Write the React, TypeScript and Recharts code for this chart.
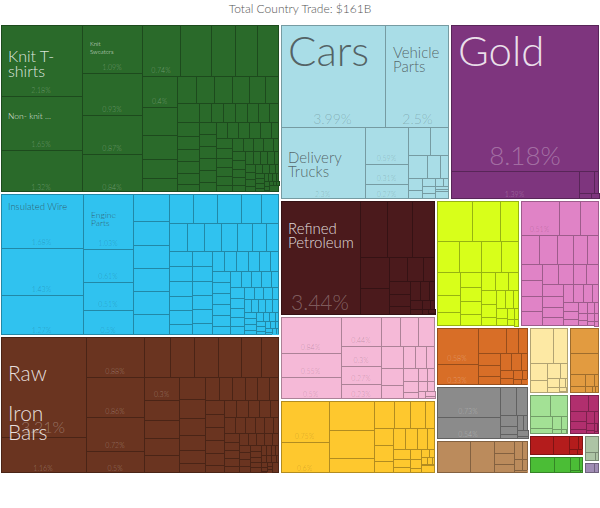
import { Treemap } from 'recharts'

const TITLE = 'Total Country Trade: $161B'

const SECTOR_NAMES = [
  'Textiles', 'Machines', 'Metals', 'Transportation', 'Precious Metals', 'Mineral Products',
  'Plastics and Rubbers', 'Foodstuffs', 'Vegetable Products', 'Chemical Products', 'Stone and Glass',
  'Instruments', 'Wood Products', 'Paper Goods', 'Miscellaneous', 'Animal Products',
  'Footwear and Headwear', 'Animal Hides', 'Animal and Vegetable Bi-Products', 'Arts and Antiques', 'Weapons'
]

// leaf values are shares of total trade (%)
const TEXTILES = [
  2.18, 1.65, 1.32, 1.09, 0.93, 0.87, 0.84, 0.74, 0.59, 0.46, 0.43, 0.42, 0.4, 0.36, 0.31, 0.24, 0.21,
  0.19, 0.18, 0.18, 0.17, 0.16, 0.16, 0.155, 0.115, 0.105, 0.1, 0.095, 0.09, 0.085,
  0.084, 0.083, 0.082, 0.081, 0.08, 0.079, 0.078, 0.077, 0.076, 0.075, 0.074, 0.073,
  0.07, 0.068, 0.066, 0.065, 0.064, 0.063, 0.062, 0.061, 0.06, 0.055, 0.054, 0.053, 0.052, 0.051,
  0.048, 0.047, 0.046, 0.045, 0.044, 0.043, 0.04, 0.039, 0.038, 0.037, 0.034, 0.033, 0.032, 0.031, 0.03,
  0.027, 0.026, 0.025, 0.024, 0.023, 0.02, 0.019, 0.018, 0.017, 0.016,
  0.014, 0.013, 0.012, 0.011, 0.01, 0.009, 0.008, 0.007, 0.006, 0.005, 0.004, 0.003, 0.002
]
const MACHINES = [
  1.68, 1.43, 1.27, 1.03, 0.61, 0.51, 0.5, 0.37, 0.32, 0.31, 0.31, 0.3, 0.29,
  0.27, 0.27, 0.265, 0.225, 0.185, 0.185, 0.18, 0.175, 0.165, 0.155, 0.15, 0.135,
  0.128, 0.126, 0.124, 0.122, 0.12, 0.118, 0.11, 0.108, 0.105, 0.103, 0.1, 0.098,
  0.09, 0.088, 0.086, 0.085, 0.084, 0.082, 0.075, 0.073, 0.071, 0.07, 0.07, 0.068, 0.066,
  0.062, 0.06, 0.058, 0.057, 0.055, 0.054, 0.048, 0.046, 0.045, 0.044, 0.042,
  0.038, 0.037, 0.036, 0.035, 0.034, 0.033, 0.029, 0.028, 0.027, 0.026, 0.025,
  0.022, 0.021, 0.02, 0.019, 0.018, 0.017, 0.015, 0.014, 0.013, 0.012, 0.011, 0.01,
  0.009, 0.008, 0.007, 0.006, 0.005, 0.004, 0.003
]
const METALS = [
  3.21, 1.16, 0.88, 0.86, 0.72, 0.5, 0.4, 0.365, 0.36, 0.345, 0.305, 0.28,
  0.3, 0.26, 0.235, 0.225, 0.22, 0.21, 0.18, 0.16, 0.147, 0.125, 0.12,
  0.115, 0.11, 0.108, 0.105, 0.102, 0.1, 0.095, 0.092, 0.09, 0.088, 0.085,
  0.078, 0.076, 0.074, 0.072, 0.07, 0.068, 0.062, 0.06, 0.058, 0.056, 0.054,
  0.05, 0.048, 0.046, 0.045, 0.044, 0.043, 0.039, 0.037, 0.035, 0.034, 0.033,
  0.03, 0.029, 0.028, 0.027, 0.026, 0.025, 0.022, 0.021, 0.02, 0.019, 0.018,
  0.016, 0.015, 0.014, 0.013, 0.012, 0.011, 0.01, 0.009, 0.008, 0.007, 0.006, 0.005, 0.004, 0.003
]
const TRANSPORTATION = [
  3.99, 2.5, 2.3, 0.59, 0.31, 0.27, 0.23, 0.21, 0.16, 0.11, 0.09,
  0.06, 0.05, 0.04, 0.035, 0.03, 0.025, 0.02, 0.015, 0.01, 0.005
]
const PRECIOUS_METALS = [8.18, 1.39, 0.12, 0.05, 0.03, 0.02, 0.015, 0.01, 0.005]
const MINERAL_PRODUCTS = [
  3.44, 0.57, 0.52, 0.5, 0.33, 0.3, 0.16, 0.14, 0.12, 0.1, 0.09, 0.08, 0.07, 0.06,
  0.05, 0.04, 0.03, 0.025, 0.02, 0.015, 0.01, 0.008, 0.006, 0.004
]
const PLASTICS = [
  0.84, 0.55, 0.5, 0.44, 0.3, 0.27, 0.23, 0.21, 0.2, 0.2, 0.18, 0.14, 0.12,
  0.1, 0.09, 0.08, 0.07, 0.06, 0.05, 0.045, 0.04, 0.035, 0.03, 0.025, 0.02, 0.015, 0.01, 0.008, 0.005
]
const FOODSTUFFS = [
  0.75, 0.6, 0.5, 0.46, 0.28, 0.21, 0.16, 0.15, 0.13, 0.12, 0.11, 0.1, 0.09, 0.09,
  0.08, 0.07, 0.06, 0.05, 0.045, 0.04, 0.035, 0.03, 0.025, 0.02, 0.015, 0.012, 0.01, 0.008, 0.005
]
const VEGETABLES = [
  0.54, 0.43, 0.3, 0.26, 0.25, 0.23, 0.21, 0.2, 0.15, 0.13, 0.12, 0.11, 0.1, 0.095, 0.09,
  0.085, 0.08, 0.075, 0.07, 0.065, 0.06, 0.05, 0.045, 0.04, 0.035, 0.03, 0.025, 0.02, 0.015, 0.01, 0.008, 0.005
]
const CHEMICALS = [
  0.51, 0.27, 0.26, 0.2, 0.19, 0.17, 0.15, 0.14, 0.13, 0.13, 0.125, 0.12, 0.12, 0.11, 0.1,
  0.095, 0.09, 0.085, 0.08, 0.075, 0.07, 0.065, 0.06, 0.055, 0.05, 0.045, 0.04, 0.035, 0.03,
  0.028, 0.025, 0.022, 0.02, 0.018, 0.015, 0.012, 0.01, 0.008, 0.006, 0.005, 0.004, 0.003
]
const STONE = [0.58, 0.33, 0.27, 0.12, 0.11, 0.1, 0.09, 0.08, 0.07, 0.06, 0.05, 0.04, 0.035, 0.03, 0.025, 0.02, 0.015, 0.005]
const INSTRUMENTS = [0.73, 0.54, 0.17, 0.14, 0.07, 0.05, 0.04, 0.035, 0.03, 0.025, 0.015, 0.01, 0.005]
const WOOD = [0.43, 0.31, 0.1, 0.08, 0.07, 0.06, 0.045, 0.035, 0.025, 0.02, 0.01, 0.005]
const PAPER = [0.32, 0.21, 0.11, 0.1, 0.07, 0.05, 0.04, 0.03, 0.02, 0.015, 0.01, 0.008, 0.007]
const MISC = [0.3, 0.25, 0.07, 0.05, 0.04, 0.03, 0.02, 0.01, 0.01]
const ANIMAL_PRODUCTS = [0.17, 0.16, 0.1, 0.06, 0.045, 0.035, 0.02, 0.012, 0.008]
const FOOTWEAR = [0.12, 0.08, 0.065, 0.05, 0.04, 0.035, 0.03, 0.02, 0.015, 0.01, 0.008, 0.007]
const HIDES = [0.18, 0.12, 0.045, 0.03, 0.02, 0.012, 0.008, 0.005]
const BI_PRODUCTS = [0.17, 0.11, 0.05, 0.025, 0.015, 0.01]
const ARTS = [0.1, 0.04, 0.02]
const WEAPONS = [0.05, 0.03]

const SECTOR_VALUES = [
  TEXTILES, MACHINES, METALS, TRANSPORTATION, PRECIOUS_METALS, MINERAL_PRODUCTS, PLASTICS,
  FOODSTUFFS, VEGETABLES, CHEMICALS, STONE, INSTRUMENTS, WOOD, PAPER, MISC, ANIMAL_PRODUCTS,
  FOOTWEAR, HIDES, BI_PRODUCTS, ARTS, WEAPONS
]

// product names shown on the biggest tiles
const SECTOR_LABELS: string[][] = [
  ['Knit T-shirts', 'Non- knit ...', '', 'Knit Sweaters'],
  ['Insulated Wire', '', '', 'Engine Parts'],
  ['Raw Iron Bars'],
  ['Cars', 'Vehicle Parts', 'Delivery Trucks'],
  ['Gold'],
  ['Refined Petroleum']
]

// tiles that print their share
const SHARES_SHOWN: number[][] = [
  [0, 1, 2, 3, 4, 5, 6, 7, 12],
  [0, 1, 2, 3, 4, 5, 6],
  [0, 1, 2, 3, 4, 5, 12],
  [0, 1, 2, 3, 4, 5],
  [0, 1],
  [0],
  [0, 1, 2, 3, 4, 5, 6],
  [0, 1],
  [],
  [0],
  [0, 1],
  [0, 1]
]

const SECTOR_COLORS = [
  '#2a6a2a', '#30c2ef', '#6a3420', '#a9dde7', '#7e357e', '#4b1a1c', '#f5b9d7',
  '#fec82e', '#d8ff1a', '#e083c6', '#d86e27', '#8b8b8b', '#bb8b5c', '#fde9a4',
  '#e29b40', '#a3e195', '#b12f6e', '#b41c1c', '#4bbd36', '#adc4a5', '#a08cb4'
]

const FONT = "Lato, 'Liberation Sans', Arial, sans-serif"

type LabelStyle = { size: number; rows: [string, number][]; share?: { size: number; bottom: number } }

const LABEL_STYLES: Record<string, LabelStyle> = {
  'Knit T-shirts': { size: 16, rows: [['Knit T-', 37.7], ['shirts', 53.3]] },
  'Non- knit ...': { size: 8.5, rows: [['Non- knit ...', 23]] },
  'Knit Sweaters': { size: 6, rows: [['Knit', 22], ['Sweaters', 30.3]] },
  'Insulated Wire': { size: 9.5, rows: [['Insulated Wire', 16.5]] },
  'Engine Parts': { size: 8.6, rows: [['Engine', 24.8], ['Parts', 33.4]] },
  'Raw Iron Bars': { size: 21, rows: [['Raw', 45.2], ['Iron', 85.2], ['Bars', 103.5]], share: { size: 16, bottom: 4 } },
  Cars: { size: 42, rows: [['Cars', 41.7]], share: { size: 14, bottom: 3 } },
  'Vehicle Parts': { size: 15, rows: [['Vehicle', 33.7], ['Parts', 47.7]], share: { size: 14, bottom: 3 } },
  'Delivery Trucks': { size: 15, rows: [['Delivery', 35.7], ['Trucks', 49.7]] },
  Gold: { size: 42, rows: [['Gold', 41.7]], share: { size: 26, bottom: 6 } },
  'Refined Petroleum': { size: 15, rows: [['Refined', 34.3], ['Petroleum', 48.3]], share: { size: 21, bottom: 6 } }
}

function rgb(hex: string) {
  const n = parseInt(hex.slice(1), 16)
  return [(n >> 16) & 255, (n >> 8) & 255, n & 255]
}

function darker(hex: string) {
  const [r, g, b] = rgb(hex)
  return `rgb(${Math.round(r * 0.7)},${Math.round(g * 0.7)},${Math.round(b * 0.7)})`
}

function isLight(hex: string) {
  const [r, g, b] = rgb(hex)
  return 0.299 * r + 0.587 * g + 0.114 * b > 145
}

const treeData = SECTOR_NAMES.map((name, i) => ({
  name,
  color: SECTOR_COLORS[i],
  children: SECTOR_VALUES[i].map((size, j) => {
    const label = (SECTOR_LABELS[i] || [])[j] || ''
    return {
      name: label || `${name} ${j + 1}`,
      label,
      size,
      showShare: (SHARES_SHOWN[i] || []).includes(j)
    }
  })
}))

// texts of a whole sector, drawn once after its last tile so nothing covers them
function SectorLabels({ sector }: { sector: any }) {
  const light = isLight(sector.color)
  return (
    <g>
      {sector.children.map((leaf: any) => {
        const style = leaf.label ? LABEL_STYLES[leaf.label] : undefined
        const share = style?.share || { size: 7, bottom: 3.5 }
        return (
          <g key={leaf.name}>
            {style &&
              style.rows.map(([text, dy]) => (
                <text
                  key={text}
                  x={leaf.x + 8}
                  y={leaf.y + dy}
                  fontFamily={FONT}
                  fontWeight={300}
                  fontSize={style.size}
                  fill={light ? '#333' : '#fff'}
                  fillOpacity={light ? 0.72 : 0.85}
                >
                  {text}
                </text>
              ))}
            {leaf.showShare && (
              <text
                x={leaf.x + leaf.width / 2}
                y={leaf.y + leaf.height - share.bottom}
                textAnchor="middle"
                fontFamily={FONT}
                fontWeight={300}
                fontSize={share.size}
                fill={light ? '#000' : '#fff'}
                fillOpacity={light ? 0.22 : 0.3}
              >
                {`${leaf.size}%`}
              </text>
            )}
          </g>
        )
      })}
    </g>
  )
}

function TradeCell(props: any) {
  const { depth, x, y, width, height, root, index } = props
  if (depth !== 2 || !root) return <g />
  const color: string = root.color
  const isLast = index === root.children.length - 1
  const labels = isLast ? <SectorLabels sector={root} /> : null
  const onRight = x + width >= root.x + root.width
  const onBottom = y + height >= root.y + root.height
  const left = x <= root.x ? x + 1 : x
  const top = y <= root.y ? y + 1 : y
  const right = onRight ? x + width - 1 : x + width
  const bottom = onBottom ? y + height - 1 : y + height
  const w = right - left
  const h = bottom - top
  if (w <= 0 || h <= 0) return <g>{labels}</g>

  return (
    <g>
      <rect x={left} y={top} width={w} height={h} fill={color} />
      <rect
        x={left + 0.5}
        y={top + 0.5}
        width={Math.max(onRight ? w - 1 : w, 0)}
        height={Math.max(onBottom ? h - 1 : h, 0)}
        fill="none"
        stroke={darker(color)}
        strokeWidth={1}
      />
      {labels}
    </g>
  )
}

export default function App() {
  return (
    <div style={{ position: 'absolute', left: 0, top: 0, width: 600, height: 508, background: '#fff' }}>
      <svg width={600} height={24} style={{ position: 'absolute', left: 0, top: 0 }}>
        <text x={300} y={12.5} textAnchor="middle" fontFamily={FONT} fontWeight={300} fontSize={12} fill="#555">
          {TITLE}
        </text>
      </svg>
      <div style={{ position: 'absolute', left: 0, top: 24 }}>
        <Treemap
          width={600}
          height={450}
          data={treeData}
          dataKey="size"
          isAnimationActive={false}
          content={(p: any) => <TradeCell {...p} />}
        />
      </div>
    </div>
  )
}
